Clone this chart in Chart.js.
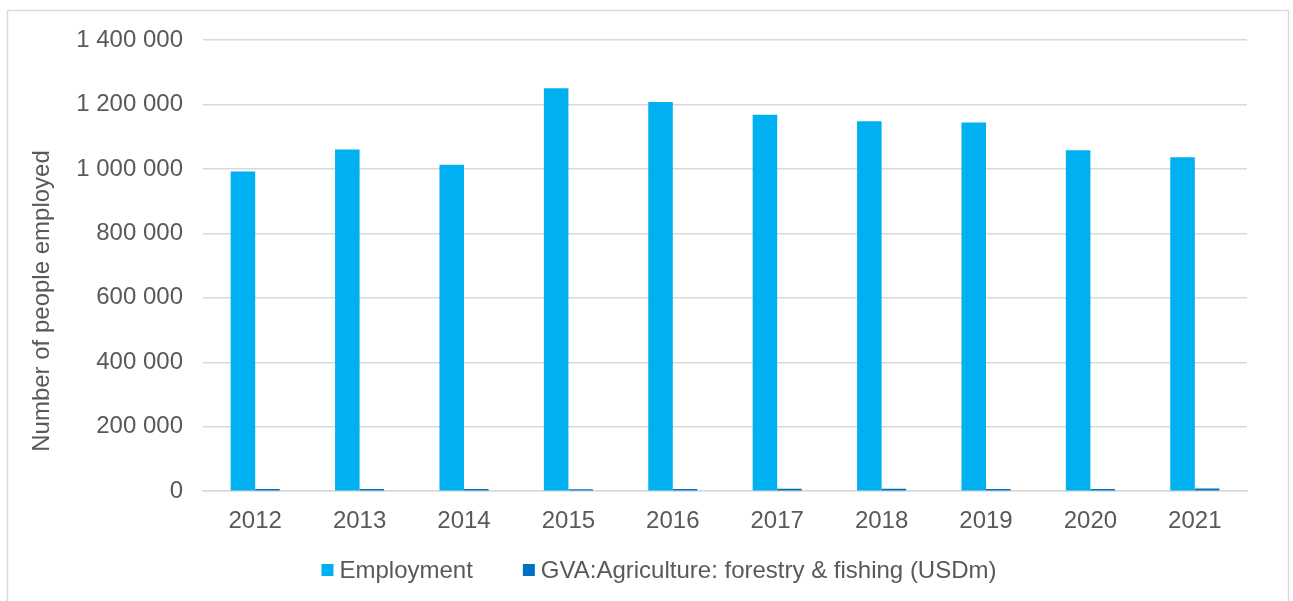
<!DOCTYPE html>
<html>
<head>
<meta charset="utf-8">
<script src="https://cdn.jsdelivr.net/npm/chart.js@4"></script>
<style>
  html, body { margin: 0; padding: 0; background: #fff; }
  #wrap { width: 1293px; height: 601px; position: relative; }
</style>
</head>
<body>
<div id="wrap"><canvas id="chart" width="1293" height="601"></canvas></div>
<script>
'use strict';

const years = ['2012', '2013', '2014', '2015', '2016', '2017', '2018', '2019', '2020', '2021'];
const employment = [992000, 1060000, 1013000, 1250000, 1208000, 1168000, 1148000, 1144000, 1058000, 1036000];
const gvaAgriculture = [7000, 6500, 7000, 6000, 6500, 7500, 7500, 6500, 6500, 8500];
const yTicks = [0, 200000, 400000, 600000, 800000, 1000000, 1200000, 1400000];
const yTitle = 'Number of people employed';

const textColor = '#595959';
const gridColor = '#d9d9d9';
const fontFamily = '"Liberation Sans", Arial, sans-serif';
const fontSize = 24;

// thousands grouped with a space: 1 400 000
function spaced(value) {
    return String(value).replace(/\B(?=(\d{3})+(?!\d))/g, ' ');
}

// light frame around the whole chart
const framePlugin = {
    id: 'frame',
    beforeDraw(chart) {
        const ctx = chart.ctx;
        ctx.save();
        ctx.fillStyle = '#fff';
        ctx.fillRect(0, 0, chart.width, chart.height);
        ctx.strokeStyle = gridColor;
        ctx.lineWidth = 1.5;
        ctx.strokeRect(7.5, 10.5, 1281, 700);
        ctx.restore();
    }
};

// axis title and legend, drawn by hand so their spacing can be set freely
const labelsPlugin = {
    id: 'labels',
    afterDraw(chart) {
        const ctx = chart.ctx;
        ctx.save();
        ctx.font = fontSize + 'px ' + fontFamily;
        ctx.fillStyle = textColor;
        ctx.textBaseline = 'middle';

        // y axis title
        ctx.save();
        ctx.translate(42, 301);
        ctx.rotate(-Math.PI / 2);
        ctx.textAlign = 'center';
        ctx.fillText(yTitle, 0, 0);
        ctx.restore();

        // legend
        const box = 12, gap = 6, itemGap = 50, legendY = 570;
        const items = chart.data.datasets.map(ds => ({
            text: ds.label,
            color: ds.backgroundColor,
            w: box + gap + ctx.measureText(ds.label).width
        }));
        const total = items.reduce((s, it) => s + it.w, 0) + itemGap * (items.length - 1);
        let x = 659 - total / 2;
        ctx.textAlign = 'left';
        items.forEach(it => {
            ctx.fillStyle = it.color;
            ctx.fillRect(x, legendY - box / 2, box, box);
            ctx.fillStyle = textColor;
            ctx.fillText(it.text, x + box + gap, legendY + 1);
            x += it.w + itemGap;
        });
        ctx.restore();
    }
};

new Chart(document.getElementById('chart'), {
    type: 'bar',
    data: {
        labels: years,
        datasets: [
            {
                label: 'Employment',
                data: employment,
                backgroundColor: '#00b0f0',
                categoryPercentage: 0.47,
                barPercentage: 1
            },
            {
                label: 'GVA:Agriculture: forestry & fishing (USDm)',
                data: gvaAgriculture,
                backgroundColor: '#0070c0',
                categoryPercentage: 0.47,
                barPercentage: 1
            }
        ]
    },
    options: {
        responsive: false,
        animation: false,
        layout: { padding: { left: 20, right: 46, top: 40, bottom: 49 } },
        plugins: {
            tooltip: { enabled: false },
            legend: { display: false }
        },
        scales: {
            x: {
                grid: { display: false, drawTicks: false },
                border: { display: true, color: gridColor, width: 1.5 },
                ticks: {
                    color: textColor,
                    font: { family: fontFamily, size: fontSize },
                    padding: 16
                }
            },
            y: {
                min: 0,
                max: 1400000,
                afterBuildTicks(scale) {
                    scale.ticks = yTicks.map(v => ({ value: v }));
                },
                afterFit(scale) {
                    scale.width = 183;
                },
                grid: { color: gridColor, lineWidth: 1.5, drawTicks: false },
                border: { display: false },
                ticks: {
                    color: textColor,
                    font: { family: fontFamily, size: fontSize },
                    padding: 20,
                    callback: v => spaced(v)
                }
            }
        }
    },
    plugins: [framePlugin, labelsPlugin]
});
</script>
</body>
</html>
